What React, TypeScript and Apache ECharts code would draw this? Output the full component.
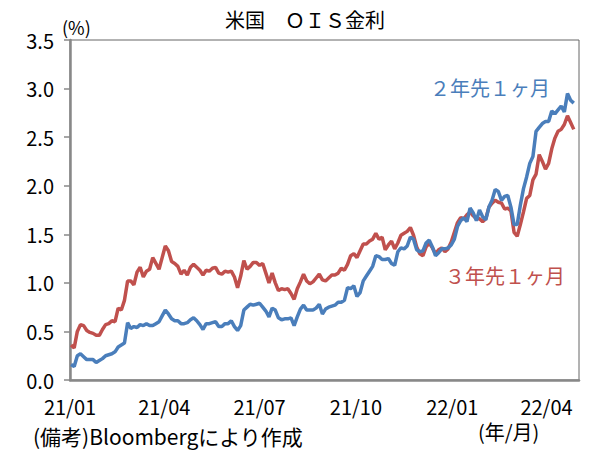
import { useEffect, useRef } from 'react';
import * as echarts from 'echarts';

const FONT = '"Noto Sans CJK JP", "Noto Sans", sans-serif';
const BLUE = '#4a7ebb';
const RED = '#c0504d';

// samples every 3 days from 2021-01-02
const START = new Date(2021, 0, 2);
const STEP_DAYS = 3;

// 3年先1ヶ月 (%)
const fwd3y = [
  0.36, 0.33, 0.50, 0.57, 0.56, 0.51, 0.49, 0.48, 0.46, 0.46,
  0.52, 0.57, 0.58, 0.61, 0.60, 0.74, 0.72, 0.82, 1.02, 1.02,
  0.98, 1.11, 1.16, 1.06, 1.12, 1.14, 1.26, 1.20, 1.14, 1.26,
  1.38, 1.33, 1.22, 1.20, 1.17, 1.09, 1.13, 1.08, 1.16, 1.19,
  1.16, 1.13, 1.08, 1.13, 1.12, 1.15, 1.16, 1.10, 1.09, 1.12,
  1.11, 1.12, 1.06, 0.95, 1.07, 1.23, 1.14, 1.17, 1.21, 1.21,
  1.18, 1.20, 1.10, 1.00, 1.10, 1.00, 0.92, 0.94, 0.93, 0.94,
  0.89, 0.83, 0.94, 1.01, 1.09, 1.02, 0.99, 1.01, 1.05, 1.09,
  1.03, 1.02, 1.05, 1.08, 1.08, 1.10, 1.15, 1.13, 1.19, 1.28,
  1.30, 1.26, 1.33, 1.40, 1.40, 1.43, 1.45, 1.51, 1.45, 1.47,
  1.34, 1.39, 1.43, 1.35, 1.41, 1.49, 1.51, 1.53, 1.57, 1.49,
  1.37, 1.30, 1.28, 1.37, 1.41, 1.36, 1.30, 1.34, 1.36, 1.32,
  1.35, 1.42, 1.52, 1.62, 1.67, 1.66, 1.70, 1.73, 1.69, 1.66,
  1.66, 1.63, 1.66, 1.78, 1.82, 1.85, 1.83, 1.82, 1.76, 1.77,
  1.74, 1.52, 1.48, 1.60, 1.73, 1.87, 1.90, 2.06, 2.12, 2.32,
  2.25, 2.17, 2.23, 2.38, 2.49, 2.56, 2.58, 2.63, 2.72, 2.65,
  2.58,
];

// 2年先1ヶ月 (%)
const fwd2y = [
  0.16, 0.14, 0.25, 0.27, 0.24, 0.21, 0.21, 0.21, 0.18, 0.20,
  0.22, 0.25, 0.26, 0.27, 0.29, 0.34, 0.36, 0.38, 0.59, 0.53,
  0.55, 0.54, 0.57, 0.56, 0.58, 0.56, 0.56, 0.58, 0.60, 0.66,
  0.72, 0.68, 0.63, 0.61, 0.61, 0.58, 0.58, 0.59, 0.62, 0.64,
  0.61, 0.57, 0.52, 0.58, 0.58, 0.59, 0.60, 0.55, 0.55, 0.58,
  0.58, 0.61, 0.55, 0.51, 0.56, 0.72, 0.75, 0.78, 0.77, 0.78,
  0.79, 0.75, 0.71, 0.65, 0.74, 0.72, 0.64, 0.62, 0.63, 0.63,
  0.64, 0.56, 0.65, 0.73, 0.77, 0.72, 0.72, 0.72, 0.74, 0.78,
  0.68, 0.73, 0.75, 0.76, 0.77, 0.80, 0.80, 0.82, 0.95, 0.94,
  0.97, 0.86, 0.90, 1.02, 1.07, 1.12, 1.17, 1.28, 1.27, 1.24,
  1.24, 1.25, 1.20, 1.18, 1.32, 1.36, 1.35, 1.38, 1.47, 1.45,
  1.34, 1.32, 1.33, 1.41, 1.44, 1.37, 1.28, 1.31, 1.35, 1.35,
  1.36, 1.39, 1.45, 1.58, 1.64, 1.67, 1.63, 1.77, 1.72, 1.64,
  1.75, 1.68, 1.65, 1.78, 1.85, 1.96, 1.94, 1.85, 1.89, 1.90,
  1.78, 1.60, 1.60, 1.80, 1.97, 2.09, 2.23, 2.30, 2.56, 2.60,
  2.64, 2.66, 2.66, 2.77, 2.74, 2.78, 2.82, 2.76, 2.95, 2.88,
  2.85,
];

// x tick labels (yy/mm)
const tickMonths = ['21/01', '21/04', '21/07', '21/10', '22/01', '22/04'];

const toTime = (ym: string) => {
  const [yy, mm] = ym.split('/').map(Number);
  return new Date(2000 + yy, mm - 1, 1).getTime();
};

const sampleTime = (i: number) =>
  new Date(START.getFullYear(), START.getMonth(), START.getDate() + i * STEP_DAYS).getTime();

const fmtMonth = (v: number) => {
  const d = new Date(v);
  const yy = String(d.getFullYear() % 100).padStart(2, '0');
  const mm = String(d.getMonth() + 1).padStart(2, '0');
  return `${yy}/${mm}`;
};

export default function App() {
  const chartRef = useRef<HTMLDivElement>(null);

  useEffect(() => {
    document.body.style.margin = '0';
    if (!chartRef.current) return;
    const chart = echarts.init(chartRef.current, undefined, { renderer: 'svg' });

    const tickValues = tickMonths.map(toTime);

    chart.setOption({
      animation: false,
      backgroundColor: '#fff',
      textStyle: { fontFamily: FONT },
      title: {
        text: '米国　ＯＩＳ金利',
        left: 'center',
        top: 9,
        padding: 0,
        textStyle: { fontSize: 20, fontWeight: 'normal', color: '#000', fontFamily: FONT },
      },
      grid: {
        left: 70,
        right: 31,
        top: 40,
        bottom: 75,
        show: true,
        borderColor: '#666',
        borderWidth: 1,
      },
      xAxis: {
        type: 'value',
        min: new Date(2021, 0, 1).getTime(),
        max: new Date(2022, 4, 2).getTime(),
        axisLine: { show: true, lineStyle: { color: '#888', width: 2.5 } },
        axisTick: { show: false },
        splitLine: { show: false },
        axisLabel: {
          customValues: tickValues,
          margin: 16,
          fontSize: 20,
          color: '#000',
          fontFamily: FONT,
          formatter: (v: number) => fmtMonth(v),
        },
      },
      yAxis: {
        type: 'value',
        min: 0,
        max: 3.5,
        interval: 0.5,
        axisLine: { show: true, lineStyle: { color: '#888', width: 2.5 } },
        axisTick: { show: true, length: 6, lineStyle: { color: '#888', width: 1.5 } },
        splitLine: { show: false },
        axisLabel: {
          margin: 16,
          fontSize: 20,
          color: '#000',
          fontFamily: FONT,
          formatter: (v: number) => v.toFixed(1),
        },
      },
      graphic: [
        {
          type: 'text',
          x: 62,
          y: 27,
          style: { text: '(%)', fontSize: 18, fill: '#000', fontFamily: FONT, textVerticalAlign: 'middle' },
        },
        {
          type: 'text',
          x: 430,
          y: 87,
          style: { text: '２年先１ヶ月', fontSize: 20, fill: BLUE, fontFamily: FONT, textVerticalAlign: 'middle' },
        },
        {
          type: 'text',
          x: 445,
          y: 275,
          style: { text: '３年先１ヶ月', fontSize: 20, fill: RED, fontFamily: FONT, textVerticalAlign: 'middle' },
        },
        {
          type: 'text',
          x: 33,
          y: 436,
          style: { text: '(備考)Bloombergにより作成', fontSize: 21, fill: '#000', fontFamily: FONT, textVerticalAlign: 'middle' },
        },
        {
          type: 'text',
          x: 478,
          y: 431,
          style: { text: '(年/月)', fontSize: 20, fill: '#000', fontFamily: FONT, textVerticalAlign: 'middle' },
        },
      ],
      series: [
        {
          name: '３年先１ヶ月',
          type: 'line',
          showSymbol: false,
          lineStyle: { color: RED, width: 3.5 },
          itemStyle: { color: RED },
          data: fwd3y.map((v, i) => [sampleTime(i), v]),
        },
        {
          name: '２年先１ヶ月',
          type: 'line',
          showSymbol: false,
          lineStyle: { color: BLUE, width: 3.5 },
          itemStyle: { color: BLUE },
          data: fwd2y.map((v, i) => [sampleTime(i), v]),
        },
      ],
    });

    return () => {
      chart.dispose();
    };
  }, []);

  return <div ref={chartRef} style={{ width: 610, height: 455 }} />;
}
